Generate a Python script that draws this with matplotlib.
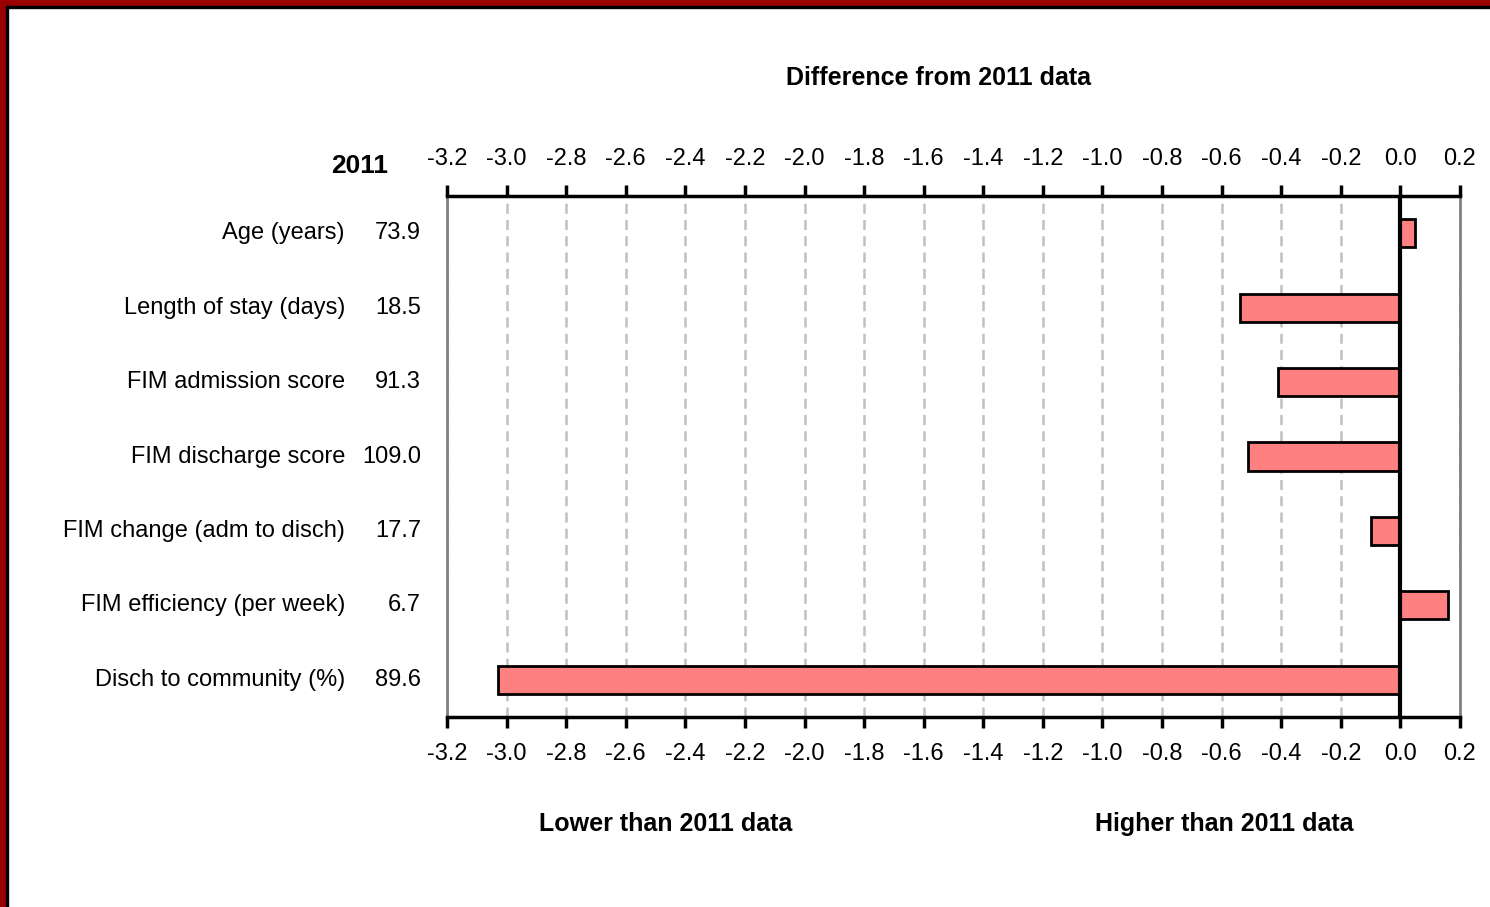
import matplotlib
matplotlib.use("Agg")
import matplotlib.pyplot as plt
import numpy as np
from matplotlib.patches import Rectangle
from matplotlib.transforms import blended_transform_factory

plt.rcParams['font.family'] = ['Liberation Sans', 'DejaVu Sans']

categories = ["Age (years)", "Length of stay (days)", "FIM admission score",
              "FIM discharge score", "FIM change (adm to disch)",
              "FIM efficiency (per week)", "Disch to community (%)"]
values_2011 = ["73.9", "18.5", "91.3", "109.0", "17.7", "6.7", "89.6"]
differences = [0.05, -0.54, -0.41, -0.51, -0.10, 0.16, -3.03]
ticks = np.round(np.arange(-3.2, 0.21, 0.2), 1)

W, H = 1490, 907
fig = plt.figure(figsize=(W / 100, H / 100), dpi=100)
ax = fig.add_axes([447 / W, 1 - 717 / H, (1460 - 447) / W, (717 - 196) / H])

y = np.arange(len(categories))
ax.barh(y, differences, height=0.38, color="#FF8080", edgecolor="black", linewidth=2, zorder=3)
ax.axvline(0, color="black", linewidth=3, zorder=4)

ax.set_xlim(-3.2, 0.2)
ax.set_ylim(len(categories) - 0.5, -0.5)
ax.set_xticks(ticks)
ax.set_xticklabels([f"{t:.1f}" for t in ticks])
ax.set_yticks([])
ax.tick_params(axis="x", which="both", top=True, labeltop=True, bottom=True, labelbottom=True,
               direction="out", length=8, width=2.5, labelsize=17, pad=11)
ax.xaxis.grid(True, color="#C0C0C0", linestyle=(0, (4, 2.5)), linewidth=1.8, zorder=0)

for side in ["top", "bottom"]:
    ax.spines[side].set_color("black")
    ax.spines[side].set_linewidth(2.5)
for side in ["left", "right"]:
    ax.spines[side].set_color("#808080")
    ax.spines[side].set_linewidth(2)

tr = blended_transform_factory(fig.transFigure, ax.transData)
for i, (cat, val) in enumerate(zip(categories, values_2011)):
    ax.text(345 / W, i, cat, transform=tr, ha="right", va="center", fontsize=17)
    ax.text(421 / W, i, val, transform=tr, ha="right", va="center", fontsize=17)

fig.text(388 / W, 1 - 166 / H, "2011", ha="right", va="center", fontsize=19, fontweight="bold")
fig.text(938 / W, 1 - 78 / H, "Difference from 2011 data", ha="center", va="center",
         fontsize=18, fontweight="bold")
fig.text(666 / W, 1 - 824 / H, "Lower than 2011 data", ha="center", va="center",
         fontsize=18, fontweight="bold")
fig.text(1224 / W, 1 - 824 / H, "Higher than 2011 data", ha="center", va="center",
         fontsize=18, fontweight="bold")

# frame on top and left edges
fig.patches.append(Rectangle((0, 1 - 6 / H), 1, 6 / H, transform=fig.transFigure,
                             color="#990000", zorder=10))
fig.patches.append(Rectangle((0, 0), 6 / W, 1, transform=fig.transFigure,
                             color="#990000", zorder=10))
fig.patches.append(Rectangle((6 / W, 1 - 8 / H), 1, 2 / H, transform=fig.transFigure,
                             color="black", zorder=10))
fig.patches.append(Rectangle((6 / W, 0), 2 / W, 1 - 6 / H, transform=fig.transFigure,
                             color="black", zorder=10))

fig.savefig("out.png", dpi=100)
